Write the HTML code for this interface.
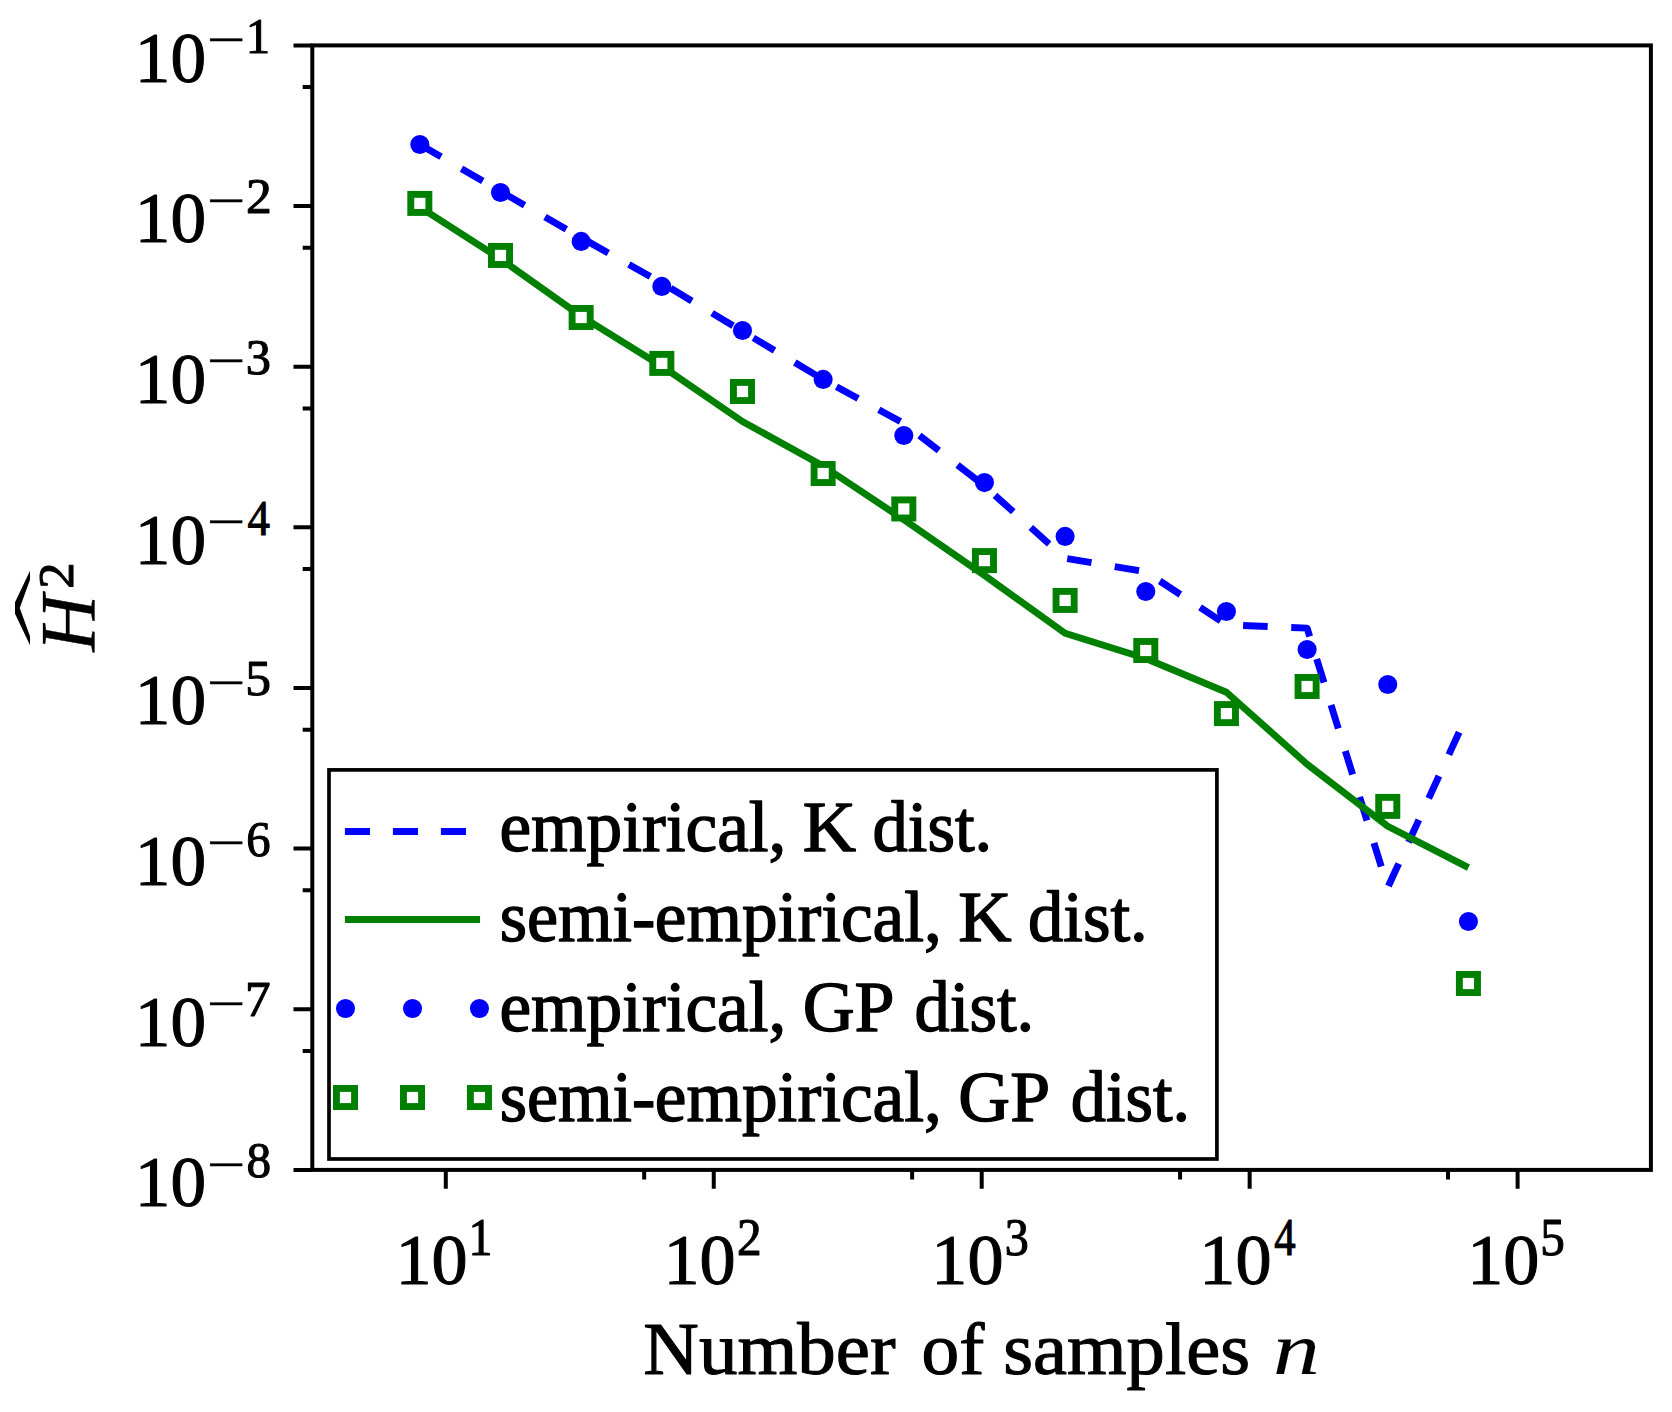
<!DOCTYPE html>
<html><head><meta charset="utf-8"><title>H2 vs n</title>
<style>html,body{margin:0;padding:0;background:#fff}svg{display:block}text{font-family:'Liberation Serif', serif;fill:#000;stroke:#000;stroke-width:1.1px;stroke-linejoin:round}</style></head><body>
<svg width="1672" height="1412" viewBox="0 0 1672 1412">
<rect width="1672" height="1412" fill="#fff"/>
<path d="M419.83 144.50 L500.49 191.30 L581.15 237.70 L661.82 282.90 L742.48 331.40 L823.14 379.40 L903.80 423.40 L984.46 485.90 L1065.12 558.30 L1145.78 571.80 L1226.44 624.80 L1307.10 628.10 L1387.76 887.50 L1468.43 712.00" fill="none" stroke="#0000ff" stroke-width="6.9" stroke-dasharray="24.6 23.6" stroke-linejoin="round"/>
<path d="M419.83 207.20 L500.49 258.90 L581.15 316.10 L661.82 366.20 L742.48 421.50 L823.14 466.00 L903.80 519.70 L984.46 575.30 L1065.12 633.30 L1145.78 658.50 L1226.44 692.20 L1307.10 764.20 L1387.76 826.20 L1468.43 867.60" fill="none" stroke="#008000" stroke-width="6.9" stroke-linejoin="round"/>
<g fill="#0000ff"><circle cx="419.83" cy="144.50" r="9.55"/><circle cx="500.49" cy="192.50" r="9.55"/><circle cx="581.15" cy="241.40" r="9.55"/><circle cx="661.82" cy="286.40" r="9.55"/><circle cx="742.48" cy="330.50" r="9.55"/><circle cx="823.14" cy="379.40" r="9.55"/><circle cx="903.80" cy="435.45" r="9.55"/><circle cx="984.46" cy="482.60" r="9.55"/><circle cx="1065.12" cy="536.40" r="9.55"/><circle cx="1145.78" cy="591.50" r="9.55"/><circle cx="1226.44" cy="611.50" r="9.55"/><circle cx="1307.10" cy="649.50" r="9.55"/><circle cx="1387.76" cy="684.50" r="9.55"/><circle cx="1468.43" cy="921.50" r="9.55"/></g>
<g fill="#fff" stroke="#008000" stroke-width="6.9"><rect x="410.78" y="194.35" width="18.1" height="18.1"/><rect x="491.44" y="246.40" width="18.1" height="18.1"/><rect x="572.10" y="308.45" width="18.1" height="18.1"/><rect x="652.77" y="354.35" width="18.1" height="18.1"/><rect x="733.43" y="382.45" width="18.1" height="18.1"/><rect x="814.09" y="464.45" width="18.1" height="18.1"/><rect x="894.75" y="499.90" width="18.1" height="18.1"/><rect x="975.41" y="551.55" width="18.1" height="18.1"/><rect x="1056.07" y="591.38" width="18.1" height="18.1"/><rect x="1136.73" y="641.45" width="18.1" height="18.1"/><rect x="1217.39" y="704.55" width="18.1" height="18.1"/><rect x="1298.05" y="677.45" width="18.1" height="18.1"/><rect x="1378.71" y="797.35" width="18.1" height="18.1"/><rect x="1459.38" y="974.45" width="18.1" height="18.1"/></g>
<rect x="312.30" y="45.40" width="1338.60" height="1124.50" fill="none" stroke="#000" stroke-width="4"/>
<path d="M312.30 45.40H293.50M312.30 206.04H293.50M312.30 366.69H293.50M312.30 527.33H293.50M312.30 687.97H293.50M312.30 848.61H293.50M312.30 1009.26H293.50M312.30 1169.90H293.50M312.30 87.11H302.70M312.30 247.75H302.70M312.30 408.39H302.70M312.30 569.04H302.70M312.30 729.68H302.70M312.30 890.32H302.70M312.30 1050.97H302.70M445.80 1169.90V1188.70M713.75 1169.90V1188.70M981.70 1169.90V1188.70M1249.65 1169.90V1188.70M1517.60 1169.90V1188.70M644.18 1169.90V1179.50M912.13 1169.90V1179.50M1180.08 1169.90V1179.50M1448.03 1169.90V1179.50" stroke="#000" stroke-width="4" fill="none"/>
<rect x="329.00" y="769.90" width="887.90" height="389.10" fill="#fff" stroke="#000" stroke-width="3.7"/>
<path d="M344.90 831.5H480.05" stroke="#0000ff" stroke-width="6.9" stroke-dasharray="25.1 22.9"/>
<path d="M344.90 919.5H480.05" stroke="#008000" stroke-width="6.9"/>
<g fill="#0000ff"><circle cx="345.50" cy="1008.5" r="9.55"/><circle cx="412.50" cy="1008.5" r="9.55"/><circle cx="479.45" cy="1008.5" r="9.55"/></g>
<g fill="#fff" stroke="#008000" stroke-width="6.9"><rect x="336.45" y="1088.45" width="18.1" height="18.1"/><rect x="403.45" y="1088.45" width="18.1" height="18.1"/><rect x="470.40" y="1088.45" width="18.1" height="18.1"/></g>
<text transform="translate(134.85,81.70) scale(0.9755,0.9946)" font-size="73">10</text>
<text transform="translate(206.47,57.00) scale(1.3233,1.0000)" font-size="52" style="stroke-width:0.3px;">−</text>
<text transform="translate(245.82,52.60) scale(0.9385,0.9834)" font-size="52">1</text>
<text transform="translate(134.85,242.34) scale(0.9755,0.9946)" font-size="73">10</text>
<text transform="translate(206.47,217.64) scale(1.3233,1.0000)" font-size="52" style="stroke-width:0.3px;">−</text>
<text transform="translate(246.08,213.24) scale(0.9925,0.9839)" font-size="52">2</text>
<text transform="translate(134.85,402.99) scale(0.9755,0.9946)" font-size="73">10</text>
<text transform="translate(206.47,378.29) scale(1.3233,1.0000)" font-size="52" style="stroke-width:0.3px;">−</text>
<text transform="translate(245.86,373.89) scale(0.9700,0.9838)" font-size="52">3</text>
<text transform="translate(134.85,563.63) scale(0.9755,0.9946)" font-size="73">10</text>
<text transform="translate(206.47,538.93) scale(1.3233,1.0000)" font-size="52" style="stroke-width:0.3px;">−</text>
<text transform="translate(247.39,534.53) scale(0.8619,0.9834)" font-size="52">4</text>
<text transform="translate(134.85,724.27) scale(0.9755,0.9946)" font-size="73">10</text>
<text transform="translate(206.47,699.57) scale(1.3233,1.0000)" font-size="52" style="stroke-width:0.3px;">−</text>
<text transform="translate(245.32,695.17) scale(0.9923,0.9834)" font-size="52">5</text>
<text transform="translate(134.85,884.91) scale(0.9755,0.9946)" font-size="73">10</text>
<text transform="translate(206.47,860.21) scale(1.3233,1.0000)" font-size="52" style="stroke-width:0.3px;">−</text>
<text transform="translate(246.19,855.81) scale(0.9374,0.9841)" font-size="52">6</text>
<text transform="translate(134.85,1045.56) scale(0.9755,0.9946)" font-size="73">10</text>
<text transform="translate(206.47,1020.86) scale(1.3233,1.0000)" font-size="52" style="stroke-width:0.3px;">−</text>
<text transform="translate(244.97,1016.46) scale(0.9851,0.9834)" font-size="52">7</text>
<text transform="translate(134.85,1206.20) scale(0.9755,0.9946)" font-size="73">10</text>
<text transform="translate(206.47,1181.50) scale(1.3233,1.0000)" font-size="52" style="stroke-width:0.3px;">−</text>
<text transform="translate(246.39,1177.10) scale(0.9465,0.9847)" font-size="52">8</text>
<text transform="translate(395.46,1283.70) scale(0.9894,0.9946)" font-size="73">10</text>
<text transform="translate(468.61,1254.70) scale(0.9179,1.0003)" font-size="52">1</text>
<text transform="translate(663.41,1283.70) scale(0.9894,0.9946)" font-size="73">10</text>
<text transform="translate(737.11,1254.70) scale(0.9470,1.0008)" font-size="52">2</text>
<text transform="translate(931.36,1283.70) scale(0.9894,0.9946)" font-size="73">10</text>
<text transform="translate(1004.85,1254.70) scale(0.9255,1.0007)" font-size="52">3</text>
<text transform="translate(1199.31,1283.70) scale(0.9894,0.9946)" font-size="73">10</text>
<text transform="translate(1274.26,1254.70) scale(0.8223,1.0003)" font-size="52">4</text>
<text transform="translate(1467.26,1283.70) scale(0.9894,0.9946)" font-size="73">10</text>
<text transform="translate(1540.23,1254.70) scale(0.9468,1.0003)" font-size="52">5</text>
<text transform="translate(643.35,1374.10) scale(1.0541,1.0000)" font-size="73">Number </text>
<text transform="translate(921.62,1374.10) scale(1.0314,1.0000)" font-size="73">of </text>
<text transform="translate(1003.20,1374.10) scale(1.0494,1.0000)" font-size="73">samples </text>
<text transform="translate(1273.03,1374.10) scale(1.2815,1.0000)" font-size="73" font-style="italic" style="stroke-width:0.1px;">n</text>
<g><text transform="translate(499.49,851.10) scale(1.0039,1.0000)" font-size="71" style="stroke-width:1.4px;">empirical, </text><text transform="translate(802.68,851.10) scale(1.0406,1.0000)" font-size="71" style="stroke-width:1.4px;">K </text><text transform="translate(872.42,851.10) scale(0.9964,1.0000)" font-size="71" style="stroke-width:1.4px;">dist.</text></g>
<g><text transform="translate(499.69,941.30) scale(0.9861,1.0000)" font-size="71" style="stroke-width:1.4px;">semi-</text><text transform="translate(654.79,941.30) scale(1.0046,1.0000)" font-size="71" style="stroke-width:1.4px;">empirical, </text><text transform="translate(958.18,941.30) scale(1.0406,1.0000)" font-size="71" style="stroke-width:1.4px;">K </text><text transform="translate(1027.92,941.30) scale(0.9964,1.0000)" font-size="71" style="stroke-width:1.4px;">dist.</text></g>
<g><text transform="translate(499.50,1031.10) scale(1.0032,1.0000)" font-size="71" style="stroke-width:1.4px;">empirical, </text><text transform="translate(802.63,1031.10) scale(1.0127,1.0000)" font-size="71" style="stroke-width:1.4px;">GP </text><text transform="translate(914.53,1031.10) scale(0.9947,1.0000)" font-size="71" style="stroke-width:1.4px;">dist.</text></g>
<g><text transform="translate(499.69,1121.00) scale(0.9861,1.0000)" font-size="71" style="stroke-width:1.4px;">semi-</text><text transform="translate(654.79,1121.00) scale(1.0046,1.0000)" font-size="71" style="stroke-width:1.4px;">empirical, </text><text transform="translate(958.34,1121.00) scale(1.0104,1.0000)" font-size="71" style="stroke-width:1.4px;">GP </text><text transform="translate(1070.73,1121.00) scale(0.9920,1.0000)" font-size="71" style="stroke-width:1.4px;">dist.</text></g>
<g transform="translate(93.7,652.6) rotate(-90)"><text transform="translate(0.88,0.00) scale(1.0277,1.0129)" font-size="77" font-style="italic" style="stroke-width:0.3px;">H</text><text transform="translate(-5.14,-38.68) scale(0.9910,0.4586)" font-size="120" style="stroke-width:0px;font-family:'DejaVu Math TeX Gyre','Liberation Serif',serif;">^</text><text transform="translate(63.74,-20.80) scale(1.0153,0.9924)" font-size="52">2</text></g>
</svg></body></html>
